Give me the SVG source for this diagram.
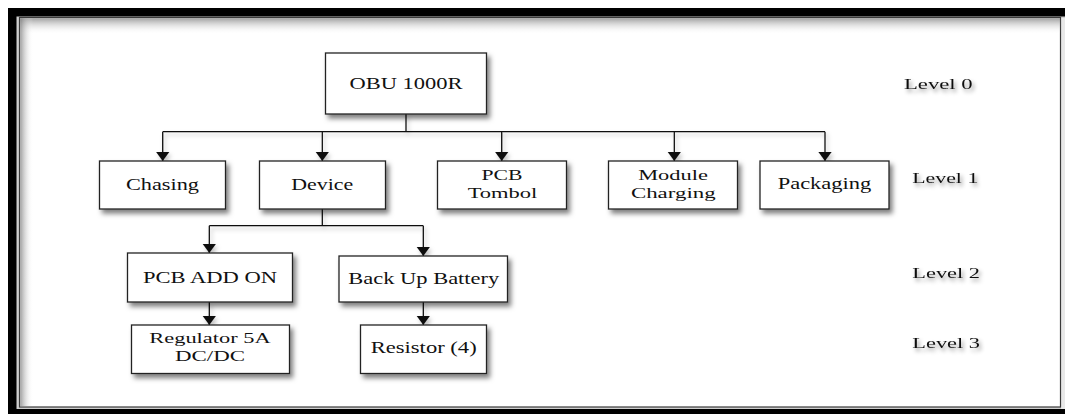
<svg xmlns="http://www.w3.org/2000/svg" width="1065" height="414" viewBox="0 0 1065 414">
<style>
.box{fill:#fff;stroke:#222;stroke-width:1.3;filter:url(#sh)}
.t{font-family:"Liberation Serif","Times New Roman",serif;font-size:16.5px;fill:#111;text-anchor:middle}
.t2{font-family:"Liberation Serif","Times New Roman",serif;font-size:15.5px;fill:#111;text-anchor:middle}
.lv{font-family:"Liberation Serif","Times New Roman",serif;font-size:15.5px;fill:#111;filter:url(#tsh)}
.c{fill:none;stroke:#111;stroke-width:1.3}
</style>
<defs>
<filter id="sh" x="-20%" y="-20%" width="150%" height="160%">
<feDropShadow dx="3" dy="4" stdDeviation="2.5" flood-color="#000" flood-opacity="0.5"/>
</filter>
<filter id="tsh" x="-20%" y="-50%" width="150%" height="220%">
<feDropShadow dx="2" dy="3" stdDeviation="2" flood-color="#000" flood-opacity="0.45"/>
</filter>
<filter id="csh" x="-20%" y="-20%" width="150%" height="160%">
<feDropShadow dx="2" dy="3" stdDeviation="2" flood-color="#000" flood-opacity="0.25"/>
</filter>
<marker id="ah" markerUnits="userSpaceOnUse" markerWidth="14" markerHeight="14" refX="9" refY="0" orient="auto" overflow="visible">
<path d="M0,-6.6 L9,0 L0,6.6 z" fill="#111"/>
</marker>
<linearGradient id="gt" x1="0" y1="0" x2="0" y2="1">
<stop offset="0" stop-color="#777" stop-opacity="0.7"/>
<stop offset="1" stop-color="#fff" stop-opacity="0"/>
</linearGradient>
<linearGradient id="gl" x1="0" y1="0" x2="1" y2="0">
<stop offset="0" stop-color="#777" stop-opacity="0.7"/>
<stop offset="1" stop-color="#fff" stop-opacity="0"/>
</linearGradient>
</defs>
<rect x="0" y="0" width="1065" height="414" fill="#fff"/>
<g id="frame">
<rect x="16" y="16" width="1049" height="393" fill="#cfcfcf"/>
<rect x="1061" y="18" width="4" height="391" fill="#e8e8e8"/>
<rect x="8" y="8" width="1057" height="8.5" fill="#000"/>
<rect x="8" y="8" width="8.5" height="406" fill="#000"/>
<rect x="8" y="409" width="1057" height="5" fill="#000"/>
<rect x="19.5" y="17.5" width="1041" height="389.5" fill="#fff" stroke="#3a3a3a" stroke-width="1.2"/>
<rect x="20.2" y="18.2" width="1040" height="16" fill="url(#gt)"/>
<rect x="20.2" y="18.2" width="13" height="388" fill="url(#gl)"/>
</g>
<g id="connectors" filter="url(#csh)">
<path class="c" d="M406,114 V131.7" stroke-width="2"/>
<path class="c" d="M162.7,131.7 H825"/>
<path class="c" d="M162.7,131.7 V161" marker-end="url(#ah)"/>
<path class="c" d="M322.3,131.7 V161" marker-end="url(#ah)"/>
<path class="c" d="M501.7,131.7 V161" marker-end="url(#ah)"/>
<path class="c" d="M674.3,131.7 V161" marker-end="url(#ah)"/>
<path class="c" d="M825,131.7 V161" marker-end="url(#ah)"/>
<path class="c" d="M322.3,209 V225.7" stroke-width="1.6"/>
<path class="c" d="M209.3,225.7 H423.3"/>
<path class="c" d="M209.3,225.7 V253" marker-end="url(#ah)"/>
<path class="c" d="M423.3,225.7 V256" marker-end="url(#ah)"/>
<path class="c" d="M209.3,302 V325" marker-end="url(#ah)"/>
<path class="c" d="M423.3,302 V325" marker-end="url(#ah)"/>
</g>
<g id="obu">
<rect class="box" x="325.5" y="53" width="161" height="61"/>
<text class="t" x="406" y="89" textLength="113" lengthAdjust="spacingAndGlyphs">OBU 1000R</text>
</g>
<g id="chasing">
<rect class="box" x="99.5" y="161" width="126" height="48"/>
<text class="t" x="162.5" y="190" textLength="73" lengthAdjust="spacingAndGlyphs">Chasing</text>
</g>
<g id="device">
<rect class="box" x="259.5" y="161" width="126" height="48"/>
<text class="t" x="322.3" y="189.5" textLength="62" lengthAdjust="spacingAndGlyphs">Device</text>
</g>
<g id="pcb-tombol">
<rect class="box" x="437.5" y="161" width="129" height="48"/>
<text class="t2" x="502" y="180" textLength="41" lengthAdjust="spacingAndGlyphs">PCB</text>
<text class="t2" x="502.5" y="198" textLength="69.7" lengthAdjust="spacingAndGlyphs">Tombol</text>
</g>
<g id="module-charging">
<rect class="box" x="608.5" y="161" width="129" height="48"/>
<text class="t2" x="673" y="180" textLength="69.7" lengthAdjust="spacingAndGlyphs">Module</text>
<text class="t2" x="673.3" y="198" textLength="84.7" lengthAdjust="spacingAndGlyphs">Charging</text>
</g>
<g id="packaging">
<rect class="box" x="760" y="161" width="129" height="48"/>
<text class="t" x="824.5" y="189" textLength="93.7" lengthAdjust="spacingAndGlyphs">Packaging</text>
</g>
<g id="pcb-add-on">
<rect class="box" x="127.5" y="253" width="165" height="49"/>
<text class="t" x="210" y="282.7" textLength="134" lengthAdjust="spacingAndGlyphs">PCB ADD ON</text>
</g>
<g id="back-up-battery">
<rect class="box" x="339" y="256" width="168.5" height="46"/>
<text class="t" x="423.8" y="284" textLength="151" lengthAdjust="spacingAndGlyphs">Back Up Battery</text>
</g>
<g id="regulator">
<rect class="box" x="131.5" y="325" width="158" height="48.5"/>
<text class="t2" x="210" y="343" textLength="121.3" lengthAdjust="spacingAndGlyphs">Regulator 5A</text>
<text class="t2" x="210" y="361" textLength="70" lengthAdjust="spacingAndGlyphs">DC/DC</text>
</g>
<g id="resistor">
<rect class="box" x="360.5" y="325" width="126" height="48.5"/>
<text class="t" x="423.7" y="352.7" textLength="106" lengthAdjust="spacingAndGlyphs">Resistor (4)</text>
</g>
<g id="levels">
<text class="lv" x="904" y="89.3" textLength="68.7" lengthAdjust="spacingAndGlyphs">Level 0</text>
<text class="lv" x="912.3" y="182.7" textLength="66" lengthAdjust="spacingAndGlyphs">Level 1</text>
<text class="lv" x="912.3" y="278.3" textLength="67.7" lengthAdjust="spacingAndGlyphs">Level 2</text>
<text class="lv" x="912.3" y="348.3" textLength="67.7" lengthAdjust="spacingAndGlyphs">Level 3</text>
</g>
</svg>
